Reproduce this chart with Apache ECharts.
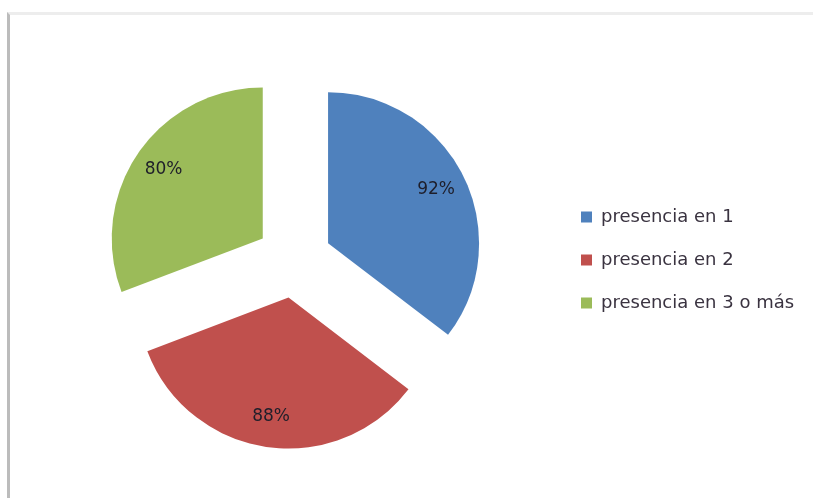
<!DOCTYPE html>
<html>
<head>
<meta charset="utf-8">
<script src="https://cdn.jsdelivr.net/npm/echarts@6/dist/echarts.min.js"></script>
<style>
    html, body { margin: 0; padding: 0; background: #fff; }
    #frame {
        position: absolute; left: 7px; top: 12px; right: 0; bottom: 0;
        border-left: 3px solid #bcbcbc;
        border-top: 3px solid #ededed;
    }
    #main { position: absolute; left: 0; top: 0; width: 813px; height: 498px; }
</style>
</head>
<body>
<div id="frame"></div>
<div id="main"></div>
<script>
const categories = ['presencia en 1', 'presencia en 2', 'presencia en 3 o más'];
const values = [92, 88, 80];
const colors = ['#4F81BD', '#C0504D', '#9BBB59'];

document.addEventListener('DOMContentLoaded', init);

function init() {
    drawChart();
}

function drawChart() {
    let myChart = echarts.init(document.getElementById('main'));

    const pieData = categories.map((name, i) => ({
        name: name,
        value: values[i],
        selected: true,
        itemStyle: { color: colors[i] }
    }));

    // same slices again, transparent, only to put the labels further out
    const labelData = categories.map((name, i) => ({
        name: name,
        value: values[i],
        selected: true
    }));

    let option = {
        animation: false,
        legend: {
            orient: 'vertical',
            left: 581,
            top: 207,
            padding: 0,
            itemWidth: 11,
            itemHeight: 11,
            itemGap: 23,
            icon: 'rect',
            textStyle: {
                fontFamily: 'DejaVu Sans',
                fontSize: 18,
                lineHeight: 20,
                color: '#3a3340',
                padding: [0, 0, 0, 4]
            },
            data: categories
        },
        series: [
            {
                type: 'pie',
                center: [294, 260],
                radius: 151,
                startAngle: 90,
                selectedMode: 'multiple',
                selectedOffset: 38,
                label: { show: false },
                labelLine: { show: false },
                emphasis: { disabled: true },
                data: pieData
            },
            {
                type: 'pie',
                center: [294, 260],
                radius: [84, 151],
                startAngle: 90,
                silent: true,
                selectedMode: 'multiple',
                selectedOffset: 38,
                itemStyle: { color: 'rgba(0,0,0,0)' },
                label: {
                    show: true,
                    position: 'inside',
                    formatter: '{c}%',
                    fontFamily: 'DejaVu Sans',
                    fontSize: 17,
                    color: '#1e1e2a'
                },
                labelLine: { show: false },
                emphasis: { disabled: true },
                data: labelData
            }
        ]
    };

    myChart.setOption(option);
}
</script>
</body>
</html>
